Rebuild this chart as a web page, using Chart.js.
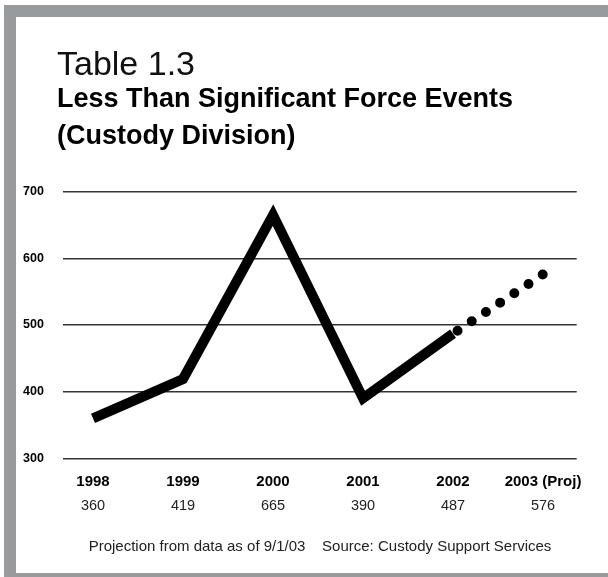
<!DOCTYPE html>
<html>
<head>
<meta charset="utf-8">
<title>Less Than Significant Force Events (Custody Division)</title>
<script src="https://cdn.jsdelivr.net/npm/chart.js@4.4.1/dist/chart.umd.min.js"></script>
<style>
  html, body { margin: 0; padding: 0; background: #ffffff; }
  body { width: 608px; height: 577px; position: relative; overflow: hidden; }
  #frame {
    position: absolute; left: 4px; top: 5px;
    width: 592px; height: 556px;
    border-left: 12px solid #999a9c;
    border-top: 12px solid #999a9c;
    border-bottom: 4px solid #999a9c;
    background: #ffffff;
  }
  #chart { display: block; }
</style>
</head>
<body>
<div id="frame"><canvas id="chart" width="592" height="556"></canvas></div>
<script>
// Yearly counts of less-than-significant force events, Custody Division
const years = ['1998', '1999', '2000', '2001', '2002', '2003 (Proj)'];
const counts = [360, 419, 665, 390, 487, 576];
const actualCount = 5;            // 1998-2002 are recorded, 2003 is projected
const yTicks = [300, 400, 500, 600, 700];

const footnote = 'Projection from data as of 9/1/03    Source: Custody Support Services';

const SANS = '"Liberation Sans", Arial, Helvetica, sans-serif';

const recorded = counts.slice(0, actualCount).map((v, i) => ({ x: i, y: v }));
const projected = counts.map((v, i) => ({ x: i, y: v })).slice(actualCount - 1);

const X_MIN = -0.33, X_MAX = 5.374;

const yearTicks = axis => { axis.ticks = years.map((_, i) => ({ value: i })); };

const footnotePlugin = {
  id: 'footnote',
  afterDraw(chart) {
    const { ctx, chartArea } = chart;
    ctx.save();
    ctx.font = '15px ' + SANS;
    ctx.fillStyle = '#222222';
    ctx.textAlign = 'center';
    ctx.textBaseline = 'alphabetic';
    ctx.fillText(footnote, (chartArea.left + chartArea.right) / 2, 534);
    ctx.restore();
  }
};

new Chart(document.getElementById('chart'), {
  type: 'line',
  data: {
    datasets: [
      {
        data: recorded,
        borderColor: '#000000',
        borderWidth: 10,
        borderCapStyle: 'butt',
        borderJoinStyle: 'miter',
        pointRadius: 0,
        tension: 0,
        fill: false
      },
      {
        data: projected,
        borderColor: '#000000',
        borderWidth: 10,
        borderCapStyle: 'round',
        borderDash: [0, 17],
        borderDashOffset: 11.6,
        pointRadius: 0,
        tension: 0,
        fill: false
      }
    ]
  },
  options: {
    responsive: false,
    animation: false,
    devicePixelRatio: 1,
    layout: { padding: { left: 41, right: 31.3, top: 0, bottom: 58.6 } },
    plugins: {
      legend: { display: false },
      tooltip: { enabled: false },
      title: {
        display: true,
        text: 'Table 1.3',
        align: 'start',
        color: '#111111',
        font: { family: SANS, size: 34, weight: 'normal', lineHeight: 0.85 },
        padding: { top: 34.25, bottom: 0 }
      },
      subtitle: {
        display: true,
        text: ['Less Than Significant Force Events', '(Custody Division)'],
        align: 'start',
        color: '#000000',
        font: { family: SANS, size: 27, weight: 'bold', lineHeight: 37 / 27 },
        padding: { top: 0.7, bottom: 36.85 }
      }
    },
    scales: {
      y: {
        type: 'linear',
        min: 300,
        max: 700,
        afterBuildTicks: axis => { axis.ticks = yTicks.map(v => ({ value: v })); },
        afterFit: axis => { axis.width = 6.3; },
        border: { display: false },
        grid: { color: '#333333', lineWidth: 1.5, drawTicks: false },
        ticks: {
          mirror: true,
          padding: -40.3,
          color: '#000000',
          font: { family: SANS, size: 12.5, weight: 'bold' }
        }
      },
      x: {
        type: 'linear',
        position: 'bottom',
        min: X_MIN,
        max: X_MAX,
        weight: 1,
        afterBuildTicks: yearTicks,
        afterFit: axis => { axis.height = 32.2; },
        border: { display: false },
        grid: { display: false, drawTicks: false },
        ticks: {
          padding: 14.2,
          color: '#000000',
          maxRotation: 0,
          autoSkip: false,
          font: { family: SANS, size: 15, weight: 'bold' },
          callback: v => years[v]
        }
      },
      counts: {
        type: 'linear',
        position: 'bottom',
        min: X_MIN,
        max: X_MAX,
        weight: 2,
        afterBuildTicks: yearTicks,
        afterFit: axis => { axis.height = 23.9; },
        border: { display: false },
        grid: { display: false, drawTicks: false },
        ticks: {
          padding: 7.1,
          color: '#222222',
          maxRotation: 0,
          autoSkip: false,
          font: { family: SANS, size: 14.5, weight: 'normal' },
          callback: v => String(counts[v])
        }
      }
    }
  },
  plugins: [footnotePlugin]
});
</script>
</body>
</html>
